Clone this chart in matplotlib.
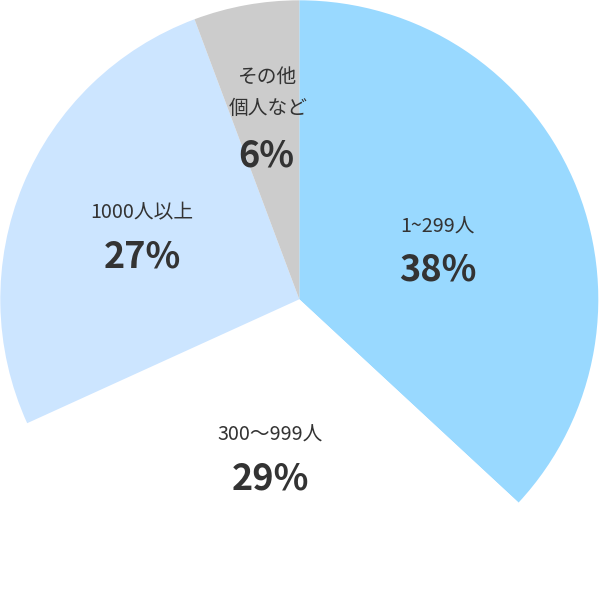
import matplotlib
matplotlib.use("Agg")
import matplotlib.pyplot as plt

plt.rcParams['font.family'] = ['Noto Sans CJK JP', 'DejaVu Sans']

categories = ["1~299人", "300〜999人", "1000人以上", "その他\n個人など"]
values = [36.9, 31.3, 26.1, 5.7]
pct_labels = ["38%", "29%", "27%", "6%"]
colors = ["#99D9FF", "#FFFFFF", "#CCE5FF", "#CCCCCC"]

# label pixel positions (layout)
cat_pos = [(438, 227), (270, 435), (142, 213), (268, 93)]
pct_pos = [(438, 270), (270, 479), (142, 257), (266, 156)]

fig = plt.figure(figsize=(6, 6), dpi=100)
ax = fig.add_axes([0, 0, 1, 1])
R = 299.0
cx, cy = 299.3, 299.3

ax.pie(values, colors=colors, startangle=90, counterclock=False, radius=1.0,
       wedgeprops=dict(linewidth=0, edgecolor='none'))
ax.set_xlim(-cx / R, (600 - cx) / R)
ax.set_ylim(-(600 - cy) / R, cy / R)
ax.set_aspect('equal')
ax.axis('off')

def to_data(px, py):
    return (px - cx) / R, (cy - py) / R

for cat, (px, py) in zip(categories, cat_pos):
    x, y = to_data(px, py)
    ax.text(x, y, cat, ha='center', va='center', fontsize=14.2, color='#333333',
            linespacing=1.65)
for pct, (px, py) in zip(pct_labels, pct_pos):
    x, y = to_data(px, py)
    ax.text(x, y, pct, ha='center', va='center', fontsize=26, fontweight='bold',
            color='#333333')

fig.savefig("out.png", dpi=100, facecolor='white')
